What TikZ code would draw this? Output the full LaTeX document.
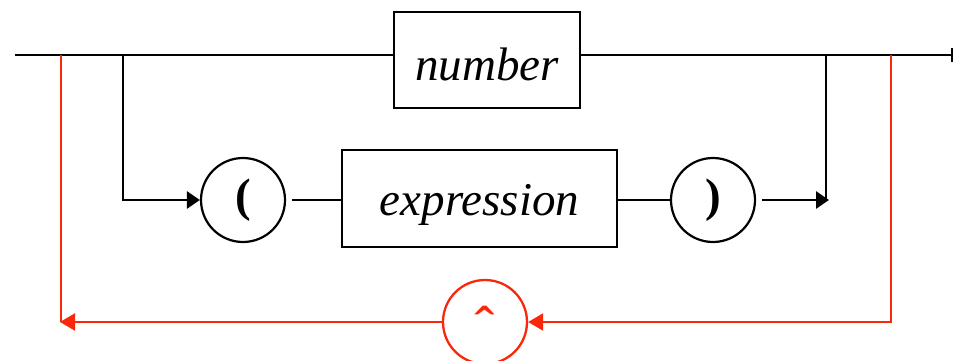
\documentclass[tikz,border=0pt]{standalone}
\usepackage{fontspec}
\setmainfont{Liberation Serif}
\newfontfamily\caretfont{DejaVu Sans}
\usetikzlibrary{arrows.meta}
\definecolor{loopred}{RGB}{250,40,10}
\begin{document}
\begin{tikzpicture}[x=1pt,y=-1pt,
  line/.style={line width=2.8pt},
  rline/.style={line width=2.4pt,draw=loopred},
  boxnode/.style={draw,line width=2.5pt,inner sep=0pt,font=\fontsize{47}{56}\selectfont\itshape},
  termnode/.style={draw,circle,line width=2.2pt,inner sep=0pt,minimum size=84pt,font=\fontsize{47}{56}\selectfont\bfseries},
  barrow/.style={-{Triangle[length=13pt,width=17pt]}},
  rarrow/.style={-{Triangle[length=15pt,width=17pt]}}]
\useasboundingbox (0,0) rectangle (953,361);
% nodes
\node[boxnode,minimum width=186pt,minimum height=96pt] (number) at (487,60) {\raisebox{-4pt}[\height][\depth]{number}};
\node[boxnode,minimum width=275pt,minimum height=97pt] (expr) at (479.5,198.5) {\raisebox{-6pt}[\height][\depth]{expression}};
\node[termnode] (lp) at (243,200) {(};
\node[termnode] (rp) at (713,200) {)};
\node[termnode,draw=loopred,text=loopred,line width=2.3pt] (caret) at (485,322) {\raisebox{4pt}[\height][\depth]{\caretfont\fontsize{32}{36}\selectfont\bfseries\textasciicircum}};
% coordinates
\coordinate (start) at (15,55);
\coordinate (finish) at (952,55);
\coordinate (lj) at (123,55);
\coordinate (rj) at (826,55);
\coordinate (rlj) at (61,55);
\coordinate (rrj) at (891,55);
% main line
\draw[line] (start) -- (start -| number.west);
\draw[line] (number.east |- finish) -- (finish);
\draw[line] ([yshift=-7pt]finish) -- ([yshift=7pt]finish);
% lower branch
\draw[line,barrow] (lj) -- (lj |- lp.west) -- (lp.west);
\draw[line,shorten <=6pt] (lp.east) -- (lp.east -| expr.west);
\draw[line] (expr.east |- rp.west) -- (rp.west);
\draw[line,barrow,shorten <=6pt] (rp.east) -- ([xshift=3pt]rj |- rp.east);
\draw[line] (rj) -- (rj |- rp.east);
% red loop
\draw[rline,rarrow] (rrj) -- (rrj |- caret.east) -- (caret.east);
\draw[rline,rarrow] (caret.west) -- ([xshift=-1pt]rlj |- caret.west);
\draw[rline] (rlj) -- (rlj |- caret.west);
\end{tikzpicture}
\end{document}
